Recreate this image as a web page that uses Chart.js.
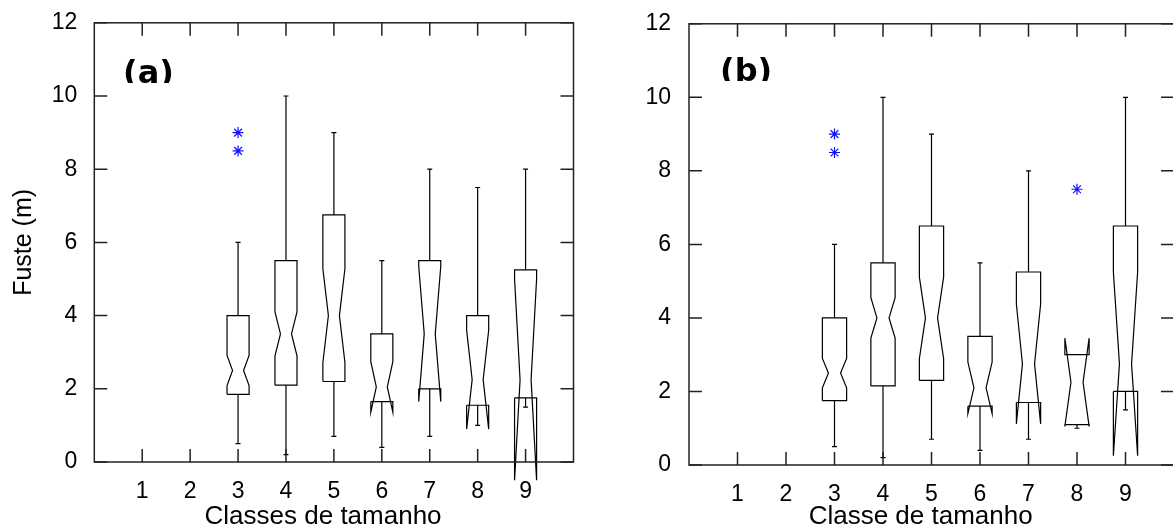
<!DOCTYPE html>
<html>
<head>
<meta charset="utf-8">
<script src="https://cdn.jsdelivr.net/npm/chart.js@4.4.0/dist/chart.umd.min.js"></script>
<style>
  html, body { margin: 0; padding: 0; background: #fff; overflow: hidden; width: 1173px; height: 532px; }
  canvas { position: absolute; top: 0; }
  #chartA { left: 0; }
  #chartB { left: 590px; }
</style>
</head>
<body>
<canvas id="chartA" width="590" height="532"></canvas>
<canvas id="chartB" width="600" height="532"></canvas>
<script>
// tick labels
const xTicks = [1, 2, 3, 4, 5, 6, 7, 8, 9];
const yTicks = [0, 2, 4, 6, 8, 10, 12];

// size classes that have data
const classes = [3, 4, 5, 6, 7, 8, 9];

// (a) Classes de tamanho
const q1A      = [1.85, 2.1, 2.2, 1.65, 2.0, 1.55, 1.75];
const medA     = [2.5, 3.5, 4.0, 2.05, 3.5, 2.25, 2.25];
const q3A      = [4.0, 5.5, 6.75, 3.5, 5.5, 4.0, 5.25];
const notchLoA = [2.09, 2.9, 2.72, 1.36, 1.65, 0.9, -0.5];
const notchHiA = [2.91, 4.1, 5.28, 2.74, 5.35, 3.6, 5.0];
const whiskLoA = [0.5, 0.2, 0.7, 0.4, 0.7, 1.0, 1.5];
const whiskHiA = [6.0, 10.0, 9.0, 5.5, 8.0, 7.5, 8.0];
const outliersA = [{x: 3, y: 9.0}, {x: 3, y: 8.5}];

// (b) Classe de tamanho
const q1B      = [1.75, 2.15, 2.3, 1.6, 1.7, 1.1, 2.0];
const medB     = [2.5, 4.0, 4.0, 2.1, 2.75, 2.25, 2.75];
const q3B      = [4.0, 5.5, 6.5, 3.5, 5.25, 3.0, 6.5];
const notchLoB = [2.1, 3.45, 2.89, 1.4, 1.12, 1.05, 0.25];
const notchHiB = [2.9, 4.55, 5.11, 2.8, 4.38, 3.45, 5.25];
const whiskLoB = [0.5, 0.2, 0.7, 0.4, 0.7, 1.0, 1.5];
const whiskHiB = [6.0, 10.0, 9.0, 5.5, 8.0, 3.0, 10.0];
const outliersB = [{x: 3, y: 9.0}, {x: 3, y: 8.5}, {x: 8, y: 7.5}];

const sans = 'Liberation Sans, Arial, Helvetica, sans-serif';

// notched boxes drawn through the chart's own scales
const notchBoxes = {
    id: 'notchBoxes',
    afterDatasetsDraw(chart, args, opts) {
        const ctx = chart.ctx;
        const x = chart.scales.x, y = chart.scales.y;
        const w = opts.halfWidth;
        ctx.save();
        ctx.strokeStyle = '#000';
        ctx.lineWidth = 1.2;
        for (let i = 0; i < opts.classes.length; i++) {
            const c = opts.classes[i];
            const q1 = opts.q1[i], q3 = opts.q3[i], md = opts.med[i];
            const nlo = opts.notchLo[i], nhi = opts.notchHi[i];
            const pts = [
                [c - w, q1], [c - w, nlo], [c - w / 2, md], [c - w, nhi], [c - w, q3],
                [c + w, q3], [c + w, nhi], [c + w / 2, md], [c + w, nlo], [c + w, q1], [c - w, q1]
            ];
            ctx.beginPath();
            pts.forEach((p, k) => {
                const px = x.getPixelForValue(p[0]), py = y.getPixelForValue(p[1]);
                if (k === 0) ctx.moveTo(px, py); else ctx.lineTo(px, py);
            });
            ctx.stroke();

            // whiskers
            const cx = x.getPixelForValue(c);
            const ends = [[q3, opts.whiskHi[i]], [q1, opts.whiskLo[i]]];
            ends.forEach(e => {
                if (e[0] === e[1]) return;
                const y0 = y.getPixelForValue(e[0]), y1 = y.getPixelForValue(e[1]);
                ctx.beginPath();
                ctx.moveTo(cx, y0); ctx.lineTo(cx, y1);
                ctx.moveTo(cx - 2.5, y1); ctx.lineTo(cx + 2.5, y1);
                ctx.stroke();
            });
        }
        ctx.restore();
    }
};

// closed frame with inward ticks on all four sides, plus the panel letter
const frame = {
    id: 'frame',
    afterDraw(chart, args, opts) {
        const ctx = chart.ctx;
        const a = chart.chartArea;
        const x = chart.scales.x, y = chart.scales.y;
        const tl = 13;
        ctx.save();
        ctx.strokeStyle = '#222';
        ctx.lineWidth = 1.5;
        ctx.strokeRect(a.left, a.top, a.right - a.left, a.bottom - a.top);
        ctx.beginPath();
        x.ticks.forEach(t => {
            const px = x.getPixelForValue(t.value);
            ctx.moveTo(px, a.bottom); ctx.lineTo(px, a.bottom - tl);
            ctx.moveTo(px, a.top); ctx.lineTo(px, a.top + tl);
        });
        y.ticks.forEach(t => {
            const py = y.getPixelForValue(t.value);
            ctx.moveTo(a.left, py); ctx.lineTo(a.left + tl, py);
            ctx.moveTo(a.right, py); ctx.lineTo(a.right - tl, py);
        });
        ctx.stroke();

        // panel letter, cut at its baseline like the original
        ctx.beginPath();
        ctx.rect(a.left, a.top, a.right - a.left, opts.baseline - a.top);
        ctx.clip();
        ctx.fillStyle = '#000';
        ctx.font = 'bold 32px "DejaVu Sans", Verdana, sans-serif';
        ctx.textBaseline = 'alphabetic';
        ctx.fillText(opts.label, opts.labelX, opts.baseline);
        ctx.restore();
    }
};

function boxChart(id, cfg) {
    const ctx = document.getElementById(id).getContext('2d');
    return new Chart(ctx, {
        type: 'scatter',
        data: {
            datasets: [{
                data: cfg.outliers,
                pointStyle: 'star',
                radius: 5.5,
                borderColor: '#1010ff',
                borderWidth: 1.2,
                backgroundColor: '#1010ff'
            }]
        },
        options: {
            responsive: false,
            animation: false,
            devicePixelRatio: 1,
            layout: { padding: cfg.padding },
            plugins: {
                legend: { display: false },
                tooltip: { enabled: false },
                notchBoxes: {
                    classes: classes, q1: cfg.q1, med: cfg.med, q3: cfg.q3,
                    notchLo: cfg.notchLo, notchHi: cfg.notchHi,
                    whiskLo: cfg.whiskLo, whiskHi: cfg.whiskHi,
                    halfWidth: cfg.halfWidth
                },
                frame: { label: cfg.label, labelX: cfg.labelX, baseline: cfg.labelBase }
            },
            scales: {
                x: {
                    type: 'linear', min: 0, max: 10,
                    afterBuildTicks: s => { s.ticks = xTicks.map(v => ({ value: v })); },
                    afterFit: s => { s.height = cfg.xHeight; },
                    grid: { display: false },
                    border: { display: false },
                    ticks: { padding: 8, color: '#000', font: { family: sans, size: 23 } },
                    title: {
                        display: true, text: cfg.xTitle, color: '#000',
                        font: { family: sans, size: 26 }, padding: { top: 0, bottom: 0 }
                    }
                },
                y: {
                    type: 'linear', min: 0, max: 12,
                    afterBuildTicks: s => { s.ticks = yTicks.map(v => ({ value: v })); },
                    afterFit: s => { s.width = cfg.yWidth; },
                    grid: { display: false },
                    border: { display: false },
                    ticks: { padding: cfg.yPad, color: '#000', font: { family: sans, size: 23 } },
                    title: {
                        display: cfg.yTitle !== '', text: cfg.yTitle, color: '#000',
                        font: { family: sans, size: 25 }, padding: { top: 9, bottom: 0 }
                    }
                }
            }
        },
        plugins: [notchBoxes, frame]
    });
}

boxChart('chartA', {
    q1: q1A, med: medA, q3: q3A, notchLo: notchLoA, notchHi: notchHiA,
    whiskLo: whiskLoA, whiskHi: whiskHiA, outliers: outliersA,
    halfWidth: 0.23,
    padding: { left: 0, top: 20, right: 16.5, bottom: 0 },
    yWidth: 94.3, xHeight: 70, yPad: 9,
    xTitle: 'Classes de tamanho   ', yTitle: 'Fuste (m)',
    label: '(a)', labelX: 123, labelBase: 83
});

boxChart('chartB', {
    q1: q1B, med: medB, q3: q3B, notchLo: notchLoB, notchHi: notchHiB,
    whiskLo: whiskLoB, whiskHi: whiskHiB, outliers: outliersB,
    halfWidth: 0.25,
    padding: { left: 0, top: 18.3, right: 16, bottom: 0 },
    yWidth: 99, xHeight: 67, yPad: 10,
    xTitle: 'Classe de tamanho   ', yTitle: '',
    label: '(b)', labelX: 130, labelBase: 81
});
</script>
</body>
</html>
